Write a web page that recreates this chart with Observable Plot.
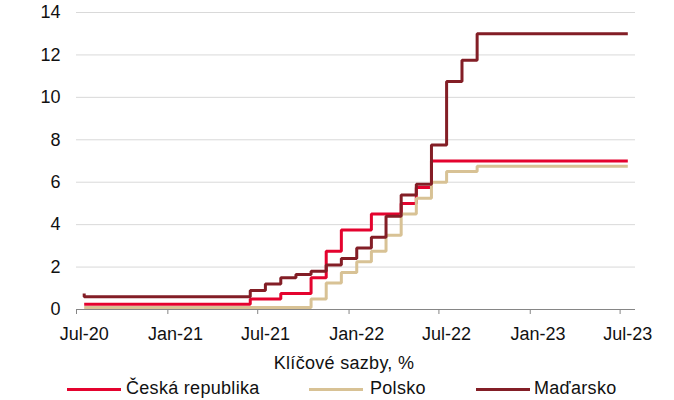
<!DOCTYPE html>
<html>
<head>
<meta charset="utf-8">
<script src="https://cdn.jsdelivr.net/npm/d3@7"></script>
<script src="https://cdn.jsdelivr.net/npm/@observablehq/plot@0.6"></script>
<style>
  html, body { margin: 0; padding: 0; background: #fff; }
  #wrap { position: relative; width: 674px; height: 400px; overflow: hidden;
          font-family: "Liberation Sans", Arial, sans-serif; color: #111; }
  #chart svg { display: block; }
  .title { position: absolute; left: 214px; width: 260px; top: 352px; height: 22px;
           line-height: 22px; font-size: 18px; text-align: center; white-space: nowrap; letter-spacing: 0.3px; }
  .lg-text { position: absolute; top: 378px; height: 20px; line-height: 20px; font-size: 18px; white-space: nowrap; letter-spacing: 0.3px; }
  .lg-sw { position: absolute; top: 388px; height: 3px; }
</style>
</head>
<body>
<div id="wrap">
  <div id="chart"></div>
  <div class="title">Klíčové sazby, %</div>
  <div id="legend"></div>
</div>
<script>
// Months shown: Jul-20 ... Jul-23 (month-end key rates, %)
const startYear = 2020, startMonth = 6, monthCount = 37;
const countries = ["Česká republika", "Polsko", "Maďarsko"];
const colors = ["#E4032E", "#D8C295", "#831E26"];

const czech = [0.25,0.25,0.25,0.25,0.25,0.25,0.25,0.25,0.25,0.25,0.25,
  0.5,0.5,0.75,0.75,1.5,2.75,3.75,3.75,4.5,4.5,5.0,5.75,
  7,7,7,7,7,7,7,7,7,7,7,7,7,7];
const poland = [0.1,0.1,0.1,0.1,0.1,0.1,0.1,0.1,0.1,0.1,0.1,0.1,0.1,0.1,0.1,
  0.5,1.25,1.75,2.25,2.75,3.5,4.5,5.25,6.0,6.5,6.5,
  6.75,6.75,6.75,6.75,6.75,6.75,6.75,6.75,6.75,6.75,6.75];
const hungary = [0.6,0.6,0.6,0.6,0.6,0.6,0.6,0.6,0.6,0.6,0.6,
  0.9,1.2,1.5,1.65,1.8,2.1,2.4,2.9,3.4,4.4,5.4,5.9,7.75,10.75,11.75,
  13,13,13,13,13,13,13,13,13,13,13];
const hungaryStart = 0.75; // rate at the very start of Jul-20 before the cut

const yTicks = [0, 2, 4, 6, 8, 10, 12, 14];
const xTickLabels = ["Jul-20", "Jan-21", "Jul-21", "Jan-22", "Jul-22", "Jan-23", "Jul-23"];

const monthStart = i => new Date(Date.UTC(startYear, startMonth + i, 1));
const monthMid = i => new Date((monthStart(i).getTime() + monthStart(i + 1).getTime()) / 2);

const series = [czech, poland, hungary];
const rows = [];
series.forEach((vals, s) => {
  if (s === 2) rows.push({date: monthMid(0), value: hungaryStart, country: countries[s]});
  vals.forEach((v, i) => rows.push({date: monthMid(i), value: v, country: countries[s]}));
});

const tickIdx = xTickLabels.map((_, k) => k * 6);
const tickDates = tickIdx.map(monthStart);
const labelData = xTickLabels.map((t, k) => ({label: t, date: monthMid(tickIdx[k])}));

const chart = Plot.plot({
  width: 674,
  height: 345,
  marginTop: 12,
  marginBottom: 36,
  marginLeft: 76,
  marginRight: 39,
  style: {fontFamily: '"Liberation Sans", Arial, sans-serif', fontSize: "18px", color: "#111", background: "#fff"},
  x: {type: "utc", domain: [monthStart(0), monthStart(monthCount)]},
  y: {domain: [0, 14]},
  marks: [
    Plot.ruleY(yTicks.filter(d => d > 0), {stroke: "#d9d9d9", strokeWidth: 1}),
    Plot.ruleY([0], {stroke: "#868686", strokeWidth: 1}),
    Plot.axisY({ticks: yTicks, tickSize: 0, tickPadding: 16, fontSize: 18, label: null, tickFormat: d => String(d)}),
    Plot.axisX({ticks: tickDates, tickSize: 5, tickFormat: () => "", label: null, stroke: "#868686"}),
    Plot.text(labelData, {x: "date", y: () => 0, text: "label", dy: 24.5, fontSize: 18, lineAnchor: "middle", fill: "#111"}),
    ...countries.map((c, s) => Plot.line(rows.filter(r => r.country === c), {
      x: "date", y: "value", stroke: colors[s], strokeWidth: 3,
      curve: "step-after", strokeLinejoin: "miter", strokeLinecap: "butt"
    }))
  ]
});
document.getElementById("chart").appendChild(chart);

// Legend below the SVG
const legend = document.getElementById("legend");
const swatchX = [67, 309, 476], textX = [126, 370, 534];
countries.forEach((c, s) => {
  const sw = document.createElement("div");
  sw.className = "lg-sw";
  sw.style.left = swatchX[s] + "px";
  sw.style.width = "54px";
  sw.style.background = colors[s];
  legend.appendChild(sw);
  const t = document.createElement("div");
  t.className = "lg-text";
  t.style.left = textX[s] + "px";
  t.textContent = c;
  legend.appendChild(t);
});
</script>
</body>
</html>
